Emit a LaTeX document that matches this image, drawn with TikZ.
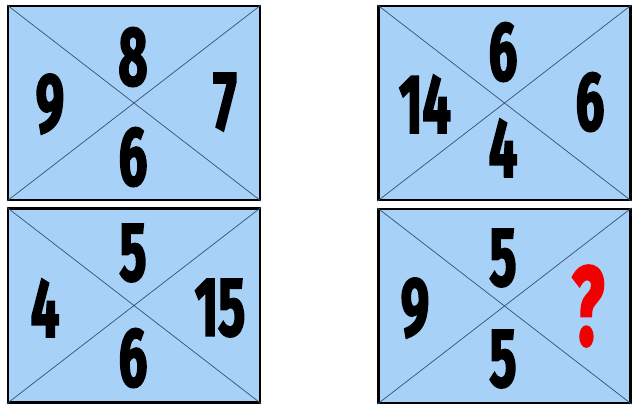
\documentclass[tikz,border=0pt]{standalone}
\usepackage{fontspec}
\usetikzlibrary{positioning}
\newfontfamily\digitfont[FakeStretch=0.6,FakeBold=2,Numbers=Proportional]{Fira Sans}
\definecolor{cardblue}{HTML}{A7D1F7}
\definecolor{crossline}{HTML}{34536F}
\definecolor{askred}{HTML}{F20000}

\begin{document}
\begin{tikzpicture}[x=1pt, y=-1pt]
        \tikzset{card/.style={rectangle, draw=black, line width=2.2pt, fill=cardblue, inner sep=0pt, minimum width=252pt, minimum height=194pt}, num/.style={inner sep=0pt, font=\digitfont\bfseries\fontsize{84}{84}\selectfont}}
        \useasboundingbox (0,0) rectangle (635,408);
        \node[card] (tl) at (134,103) {};
        \node[card] (tr) at (504.5,103) {};
        \node[card] (bl) at (134,305.5) {};
        \node[card] (br) at (504.5,306) {};
        \foreach \c in {tl,tr,bl,br} {\draw[crossline, line width=0.7pt] (\c.north west) -- (\c.south east) (\c.north east) -- (\c.south west);}
        % top left
        \node[num] (tlN) at (133,57) {8};
        \node[num] (tlS) at (133,157) {6};
        \node[num] (tlW) at (50,104) {9};
        \node[num] (tlE) at (225,102) {7};
        % top right
        \node[num] (trN) at (503,52) {6};
        \node[num] (trS) at (503,148) {4};
        \node[num] (trW) at (425,104) {14};
        \node[num] (trE) at (590,102) {6};
        % bottom left
        \node[num] (blN) at (133,253) {5};
        \node[num] (blS) at (133,358) {6};
        \node[num] (blW) at (45,308) {4};
        \node[num] (blE) at (220,308) {15};
        % bottom right
        \node[num] (brN) at (503,258) {5};
        \node[num] (brS) at (503,359) {5};
        \node[num] (brW) at (415,308) {9};
        \node[num, text=askred, font=\digitfont\bfseries\fontsize{112}{112}\selectfont] (brE) at (588,306) {?};
\end{tikzpicture}
\end{document}
